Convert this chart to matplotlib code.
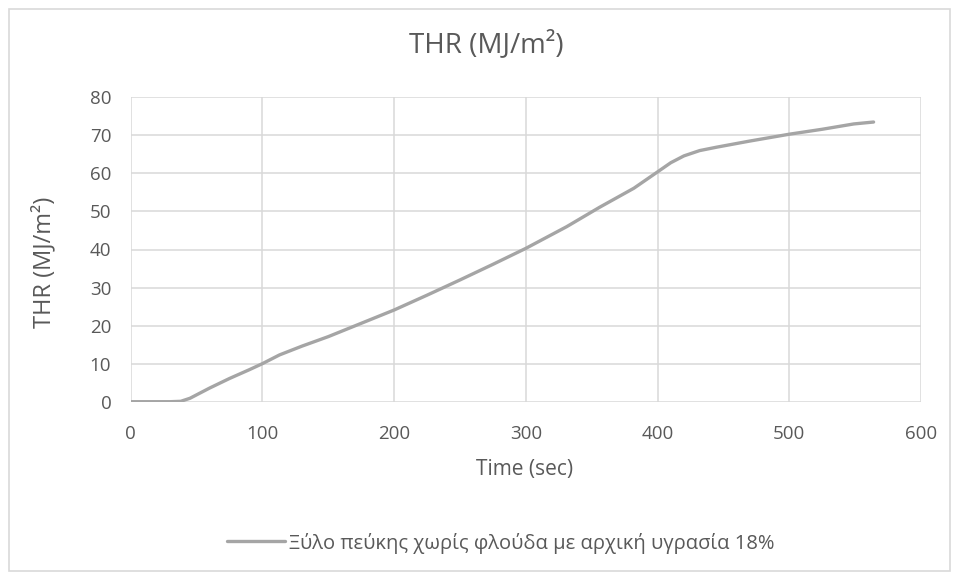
import matplotlib
matplotlib.use("Agg")
import matplotlib.pyplot as plt
from matplotlib.patches import Rectangle
from matplotlib import font_manager

time_s = [0, 10, 20, 30, 38, 45, 50, 60, 75, 90, 100, 113, 130, 150, 175,
          200, 225, 250, 275, 300, 331, 356, 382, 400, 410, 420, 432, 445,
          470, 500, 525, 549, 564]
thr = [0, 0, 0, 0, 0.1, 0.9, 1.8, 3.6, 6.1, 8.4, 10.0, 12.3, 14.6, 17.1, 20.6,
       24.1, 28.0, 32.0, 36.1, 40.3, 46.0, 51.1, 56.1, 60.4, 62.8, 64.6, 66.0, 66.9,
       68.5, 70.3, 71.6, 73.0, 73.5]
series_label = "Ξύλο πεύκης χωρίς φλούδα με αρχική υγρασία 18%"
title = "THR (MJ/m²)"
xlabel = "Time (sec)"
ylabel = "THR (MJ/m²)"
xticks = [0, 100, 200, 300, 400, 500, 600]
yticks = [0, 10, 20, 30, 40, 50, 60, 70, 80]

avail = {f.name for f in font_manager.fontManager.ttflist}
fam = [f for f in ["Open Sans", "Noto Sans", "DejaVu Sans"] if f in avail]
plt.rcParams['font.family'] = fam

W, H = 958, 576
fig = plt.figure(figsize=(W/100, H/100), dpi=100)
fig.patch.set_facecolor("white")
fig.add_artist(Rectangle((9/W, 1-571/H), (950-9)/W, (571-9)/H, transform=fig.transFigure,
                         fill=False, edgecolor="#D9D9D9", linewidth=1.2))

ax = fig.add_axes([130.7/W, 1-401.7/H, (921-130.7)/W, (401.7-97.3)/H])
txt = "#595959"
line, = ax.plot(time_s, thr, color="#A5A5A5", linewidth=2.4, solid_capstyle="round",
                label=series_label, zorder=3)
ax.set_xlim(0, 600)
ax.set_ylim(0, 80)
ax.set_xticks(xticks)
ax.set_yticks(yticks)
ax.grid(True, color="#D9D9D9", linewidth=1.1)
ax.set_axisbelow(True)
for s in ax.spines.values():
    s.set_visible(False)
ax.tick_params(length=0, labelsize=13.5, labelcolor=txt)
ax.tick_params(axis='x', pad=17)
ax.tick_params(axis='y', pad=14)

fig.text(486/W, 1-45/H, title, ha="center", va="center", fontsize=20, color=txt)
fig.text(525/W, 1-470/H, xlabel, ha="center", va="center", fontsize=15, color=txt)
fig.text(44/W, 1-262/H, ylabel, ha="center", va="center", rotation=90, fontsize=17, color=txt)

leg = fig.legend(handles=[line], loc="center", bbox_to_anchor=(501/W, 1-543/H),
                 frameon=False, fontsize=14.5, handlelength=2.9, handletextpad=0.2,
                 labelcolor=txt)

fig.savefig("out.png", dpi=100, facecolor="white")
